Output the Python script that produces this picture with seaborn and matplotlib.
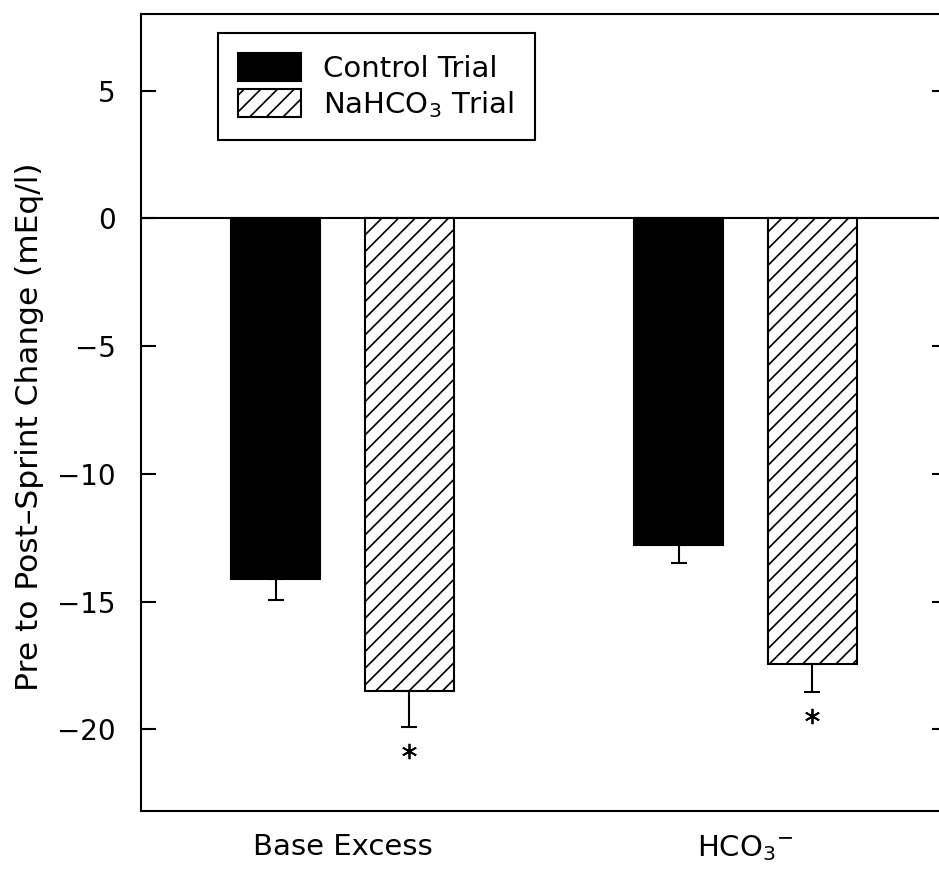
import numpy as np
import pandas as pd
import matplotlib
matplotlib.use("Agg")
import matplotlib.pyplot as plt
import matplotlib.patches as mpatches
import seaborn as sns

# ---- data ----
categories = ["Base Excess", "HCO$_3$$^{-}$"]
trials = ["Control Trial", "NaHCO$_3$ Trial"]
control_values = [-14.1, -12.8]
nahco3_values = [-18.5, -17.45]
control_err = [0.85, 0.7]
nahco3_err = [1.4, 1.1]
significant = [False, False, True, True]  # order: control BE, control HCO3, NaHCO3 BE, NaHCO3 HCO3
yticks = [5, 0, -5, -10, -15, -20]

df = pd.DataFrame({
    "category": categories * 2,
    "trial": [trials[0]] * 2 + [trials[1]] * 2,
    "value": control_values + nahco3_values,
})
errs = control_err + nahco3_err

sns.set_style("ticks")
plt.rcParams["font.family"] = ["DejaVu Sans"]
plt.rcParams["mathtext.fontset"] = "dejavusans"
plt.rcParams["mathtext.default"] = "regular"
plt.rcParams["hatch.linewidth"] = 1.2
for k in ["text.color", "axes.labelcolor", "xtick.color", "ytick.color", "axes.edgecolor"]:
    plt.rcParams[k] = "black"

W, H = 939, 871
fig = plt.figure(figsize=(W / 100, H / 100), dpi=100)
ax = fig.add_axes([141 / W, 60 / H, 806 / W, 797 / H])

sns.barplot(data=df, x="category", y="value", hue="trial", order=categories,
            hue_order=trials, palette={trials[0]: "black", trials[1]: "white"},
            width=0.665, gap=0.336, edgecolor="black", linewidth=1.5,
            errorbar=None, legend=False, ax=ax, zorder=2)

bars = [p for p in ax.patches if isinstance(p, mpatches.Rectangle)][:4]
for i, p in enumerate(bars):
    if i >= 2:
        p.set_hatch("//")

for i, p in enumerate(bars):
    xc = p.get_x() + p.get_width() / 2
    yv = p.get_y() + p.get_height()
    ax.errorbar([xc], [yv], yerr=[[errs[i]], [0]], fmt="none", ecolor="black",
                elinewidth=1.5, capsize=5.8, capthick=1.5, zorder=3)
    if significant[i]:
        ax.plot([xc], [yv - errs[i] - 0.95], marker=(6, 2, 0), color="black",
                markersize=11, markeredgewidth=1.3, linestyle="none", zorder=3)

ax.axhline(0, color="black", lw=1.5, zorder=1)

ax.set_xlim(-0.5, 1.5)
ax.set_ylim(-23.2, 8)
ax.set_yticks(yticks)
ax.set_xlabel("")
ax.set_ylabel("Pre to Post\u2013Sprint Change (mEq/l)", fontsize=22.5)
ax.yaxis.set_label_coords((44 - 141) / 806, (811 - 427) / 797)
ax.tick_params(axis="y", direction="in", length=11, width=1.5, right=True,
               labelsize=20, pad=18)
ax.tick_params(axis="x", length=0, labelsize=21, pad=16)
for s in ["left", "bottom", "top"]:
    ax.spines[s].set_linewidth(1.5)
ax.spines["right"].set_visible(False)

handles = [
    mpatches.Patch(facecolor="black", edgecolor="black", lw=1.5, label=trials[0]),
    mpatches.Patch(facecolor="white", edgecolor="black", lw=1.5, hatch="//", label=trials[1]),
]
leg = ax.legend(handles=handles, loc="upper left",
                bbox_to_anchor=((218 - 141) / 806, (811 - 33) / 797),
                borderaxespad=0, fontsize=21, frameon=True, fancybox=False,
                edgecolor="black", framealpha=1, handlelength=2.15,
                handleheight=1.1, handletextpad=0.75, labelspacing=0.2,
                borderpad=0.7)
leg.get_frame().set_linewidth(1.5)

fig.savefig("out.png", dpi=100)
